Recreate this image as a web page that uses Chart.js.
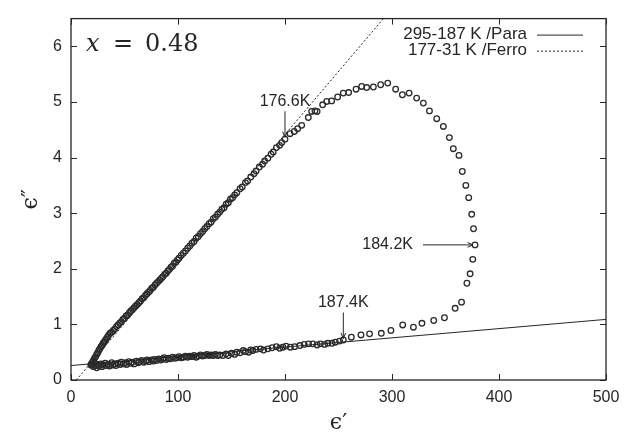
<!DOCTYPE html>
<html>
<head>
<meta charset="utf-8">
<title>x = 0.48</title>
<script src="https://cdn.jsdelivr.net/npm/chart.js@4.4.1/dist/chart.umd.min.js"></script>
<style>
	html, body { margin: 0; padding: 0; background: #fff; }
	canvas { display: block; }
</style>
</head>
<body>
<canvas id="coleChart" width="630" height="433"></canvas>
<script>
// measured points, paraelectric branch 295-187 K
const paraX = [20, 21, 22, 23, 24, 25, 26, 28, 29, 30, 32, 33, 35, 36, 38, 39, 41, 42, 44, 46, 47, 49, 51, 52, 54, 56, 57, 59, 61, 63,
	64, 66, 68, 70, 71, 73, 75, 77, 78, 80, 82, 84, 86, 87, 89, 91, 93, 95, 97, 99, 101, 103, 105, 107, 109, 111, 113, 115, 117, 119,
	121, 123, 125, 127, 129, 131, 133, 135, 137, 139, 142, 145, 147, 150, 153, 155, 158, 161, 163, 166, 168, 170, 173, 177, 180, 184,
	188, 192, 195, 198, 201, 205, 209, 214, 218, 222, 226, 230, 233, 237, 240, 244, 247, 251, 254.5];
const paraY = [0.27, 0.24, 0.30, 0.26, 0.22, 0.28, 0.25, 0.29, 0.24, 0.27, 0.30, 0.26, 0.28, 0.25, 0.31, 0.27, 0.29, 0.26, 0.30, 0.28,
	0.32, 0.29, 0.31, 0.28, 0.33, 0.30, 0.32, 0.29, 0.34, 0.31, 0.33, 0.35, 0.32, 0.34, 0.36, 0.33, 0.36, 0.34, 0.37, 0.35, 0.38, 0.36,
	0.38, 0.40, 0.37, 0.39, 0.38, 0.41, 0.39, 0.40, 0.42, 0.40, 0.41, 0.43, 0.41, 0.43, 0.42, 0.44, 0.41, 0.43, 0.45, 0.43, 0.44, 0.46,
	0.44, 0.45, 0.44, 0.46, 0.44, 0.45, 0.44, 0.47, 0.44, 0.48, 0.46, 0.50, 0.49, 0.53, 0.51, 0.50, 0.54, 0.53, 0.55, 0.56, 0.54, 0.56,
	0.58, 0.60, 0.57, 0.59, 0.61, 0.59, 0.60, 0.62, 0.64, 0.65, 0.65, 0.63, 0.65, 0.64, 0.66, 0.66, 0.68, 0.70, 0.72];

// transition loop 187-177 K
const loopX = [262, 271, 279, 290, 299, 310, 320, 328, 339, 349, 359, 365, 370, 373, 375.5, 377.6, 376.2, 374.5, 371.7, 369, 365.7,
	362.6, 357.3, 353.6, 348, 341.8, 335, 329.3, 323, 316, 309.7, 303.4, 296, 289.4, 282.6, 276.3, 271.7, 266.4, 259.5, 254.5, 249.2,
	243.6, 239, 235.2, 230, 228, 224.9, 221.8, 215.6, 211.8, 208.7, 204.7];
const loopY = [0.77, 0.81, 0.83, 0.84, 0.89, 0.99, 0.95, 1.02, 1.07, 1.12, 1.29, 1.40, 1.74, 1.91, 2.17, 2.43, 2.72, 2.98, 3.28, 3.50,
	3.75, 4.04, 4.16, 4.36, 4.56, 4.70, 4.84, 4.98, 5.07, 5.16, 5.13, 5.23, 5.34, 5.31, 5.27, 5.26, 5.28, 5.23, 5.17, 5.16, 5.09, 5.02,
	5.01, 4.95, 4.83, 4.84, 4.83, 4.72, 4.58, 4.52, 4.47, 4.43];

// ferroelectric branch 177-31 K
const ferroX = [200, 197, 195, 192, 189, 187, 184, 181, 179, 176, 173, 171, 168, 165, 163, 160, 158, 155, 153, 151, 149, 147, 145,
	143, 141, 139, 137, 135, 133, 131, 129, 127, 125, 123, 121, 119, 117, 115, 113, 111, 109, 107, 105, 103, 101, 99.5, 98, 96.5, 95,
	93.5, 92, 90.5, 89, 87.5, 86, 84.5, 83, 81.5, 80, 78.5, 77, 75.5, 74, 72.5, 71, 69.5, 68, 66.5, 65, 63.5, 62, 60.5, 59, 57.5, 56,
	54.5, 53, 51.5, 50, 48.5, 47, 45.5, 44, 42.5, 41, 39.5, 38, 36.5, 35, 34, 33, 32, 31, 30, 29, 28, 27, 26, 25, 24, 23, 22, 21, 20,
	19, 18.5];
const ferroY = [4.33, 4.27, 4.22, 4.18, 4.10, 4.06, 3.99, 3.94, 3.88, 3.83, 3.76, 3.71, 3.65, 3.58, 3.55, 3.47, 3.44, 3.37, 3.33,
	3.28, 3.25, 3.19, 3.16, 3.10, 3.07, 3.02, 2.98, 2.93, 2.90, 2.84, 2.81, 2.76, 2.72, 2.67, 2.63, 2.58, 2.55, 2.49, 2.46, 2.41, 2.37,
	2.32, 2.28, 2.24, 2.19, 2.16, 2.12, 2.10, 2.05, 2.03, 1.99, 1.96, 1.92, 1.90, 1.86, 1.83, 1.80, 1.77, 1.74, 1.71, 1.67, 1.65, 1.61,
	1.58, 1.55, 1.52, 1.48, 1.46, 1.42, 1.39, 1.36, 1.33, 1.30, 1.27, 1.24, 1.21, 1.17, 1.15, 1.11, 1.09, 1.05, 1.02, 0.99, 0.96, 0.92,
	0.89, 0.86, 0.84, 0.80, 0.77, 0.74, 0.71, 0.68, 0.66, 0.62, 0.60, 0.56, 0.53, 0.49, 0.46, 0.42, 0.39, 0.35, 0.32, 0.29, 0.27];

// fitted lines
const paraFitX = [0, 500];
const paraFitY = [0.26, 1.09];
const ferroFitX = [5, 292];
const ferroFitY = [0, 6.5];

const xTicks = [0, 100, 200, 300, 400, 500];
const yTicks = [0, 1, 2, 3, 4, 5, 6];

// temperature marks
const noteText = ['176.6K', '187.4K', '184.2K'];
const noteX = [200, 254.5, 377.6];
const noteY = [4.33, 0.71, 2.43];

const sansFont = "'Liberation Sans', Arial, Helvetica, sans-serif";
const serifFont = "'DejaVu Serif', 'Liberation Serif', serif";
const ink = '#262626';

function toPoints(xs, ys) {
	return xs.map((x, i) => ({ x: x, y: ys[i] }));
}

function drawArrow(ctx, x1, y1, x2, y2) {
	const ang = Math.atan2(y2 - y1, x2 - x1);
	ctx.beginPath();
	ctx.moveTo(x1, y1);
	ctx.lineTo(x2, y2);
	ctx.moveTo(x2 - 6 * Math.cos(ang - 0.4), y2 - 6 * Math.sin(ang - 0.4));
	ctx.lineTo(x2, y2);
	ctx.lineTo(x2 - 6 * Math.cos(ang + 0.4), y2 - 6 * Math.sin(ang + 0.4));
	ctx.stroke();
}

// frame, inner ticks, legend and labels
const extrasPlugin = {
	id: 'extras',
	afterDraw(chart) {
		const ctx = chart.ctx;
		const a = chart.chartArea;
		const xs = chart.scales.x;
		const ys = chart.scales.y;
		ctx.save();
		ctx.strokeStyle = ink;
		ctx.lineWidth = 1.3;
		ctx.strokeRect(a.left, a.top, a.right - a.left, a.bottom - a.top);

		ctx.lineWidth = 1;
		ctx.beginPath();
		xs.ticks.forEach(t => {
			const px = Math.round(xs.getPixelForValue(t.value)) + 0.5;
			ctx.moveTo(px, a.bottom); ctx.lineTo(px, a.bottom - 6);
			ctx.moveTo(px, a.top); ctx.lineTo(px, a.top + 6);
		});
		ys.ticks.forEach(t => {
			const py = Math.round(ys.getPixelForValue(t.value)) + 0.5;
			ctx.moveTo(a.left, py); ctx.lineTo(a.left + 6, py);
			ctx.moveTo(a.right, py); ctx.lineTo(a.right - 6, py);
		});
		ctx.stroke();

		// legend, text on the left of the sample line
		ctx.fillStyle = ink;
		ctx.font = '17px ' + sansFont;
		ctx.textAlign = 'right';
		ctx.textBaseline = 'middle';
		[0, 1].forEach(i => {
			const ds = chart.data.datasets[i];
			const ly = a.top + 16 + i * 16;
			ctx.fillText(ds.label, a.right - 79, ly);
			ctx.setLineDash(ds.borderDash || []);
			ctx.beginPath();
			ctx.moveTo(a.right - 69, ly + 0.5);
			ctx.lineTo(a.right - 23, ly + 0.5);
			ctx.stroke();
		});
		ctx.setLineDash([]);

		// temperature marks
		ctx.font = '16px ' + sansFont;
		noteText.forEach((txt, i) => {
			const px = xs.getPixelForValue(noteX[i]);
			const py = ys.getPixelForValue(noteY[i]);
			if (i < 2) {
				ctx.textAlign = 'center';
				ctx.fillText(txt, px, py - 38);
				drawArrow(ctx, px, py - 28, px, py - 2);
			} else {
				ctx.textAlign = 'right';
				ctx.fillText(txt, px - 62, py);
				drawArrow(ctx, px - 52, py, px - 2, py);
			}
		});

		// composition
		ctx.textAlign = 'left';
		ctx.textBaseline = 'alphabetic';
		ctx.font = 'italic 24px ' + serifFont;
		ctx.fillText('x', a.left + 15, a.top + 32);
		ctx.font = '24px ' + serifFont;
		ctx.fillText('=', a.left + 42, a.top + 32);
		ctx.fillText('0.48', a.left + 74, a.top + 32);
		ctx.restore();
	}
};

document.addEventListener('DOMContentLoaded', function () {
	Chart.defaults.font.family = sansFont;
	Chart.defaults.color = ink;

	new Chart(document.getElementById('coleChart'), {
		type: 'scatter',
		data: {
			datasets: [{
				label: '295-187 K /Para',
				data: toPoints(paraFitX, paraFitY),
				showLine: true,
				borderColor: ink,
				borderWidth: 1,
				pointRadius: 0
			}, {
				label: '177-31 K /Ferro',
				data: toPoints(ferroFitX, ferroFitY),
				showLine: true,
				borderColor: ink,
				borderWidth: 1,
				borderDash: [2, 2],
				pointRadius: 0
			}, {
				label: 'data',
				data: toPoints(paraX.concat(loopX, ferroX), paraY.concat(loopY, ferroY)),
				pointRadius: 2.8,
				borderWidth: 1.3,
				borderColor: '#2b2b2b',
				backgroundColor: 'rgba(0,0,0,0)'
			}]
		},
		options: {
			responsive: false,
			animation: false,
			devicePixelRatio: 1,
			layout: { padding: { top: 14, right: 24, left: 0, bottom: 0 } },
			plugins: {
				legend: { display: false },
				tooltip: { enabled: false }
			},
			scales: {
				x: {
					type: 'linear',
					min: 0,
					max: 500,
					afterBuildTicks: s => { s.ticks = xTicks.map(v => ({ value: v })); },
					afterFit: s => { s.height = 53; },
					ticks: { font: { size: 16 }, padding: 8 },
					grid: { display: false, drawTicks: false },
					border: { display: false },
					title: {
						display: true,
						text: 'ϵ′',
						font: { family: serifFont, size: 22 },
						padding: { top: 0, bottom: -3 }
					}
				},
				y: {
					type: 'linear',
					min: 0,
					max: 6.5,
					afterBuildTicks: s => { s.ticks = yTicks.map(v => ({ value: v })); },
					afterFit: s => { s.width = 71; },
					ticks: { font: { size: 16 }, padding: 9 },
					grid: { display: false, drawTicks: false },
					border: { display: false },
					title: {
						display: true,
						text: 'ϵ″',
						font: { family: serifFont, size: 22 },
						padding: { top: 18, bottom: 0 }
					}
				}
			}
		},
		plugins: [extrasPlugin]
	});
});
</script>
</body>
</html>
